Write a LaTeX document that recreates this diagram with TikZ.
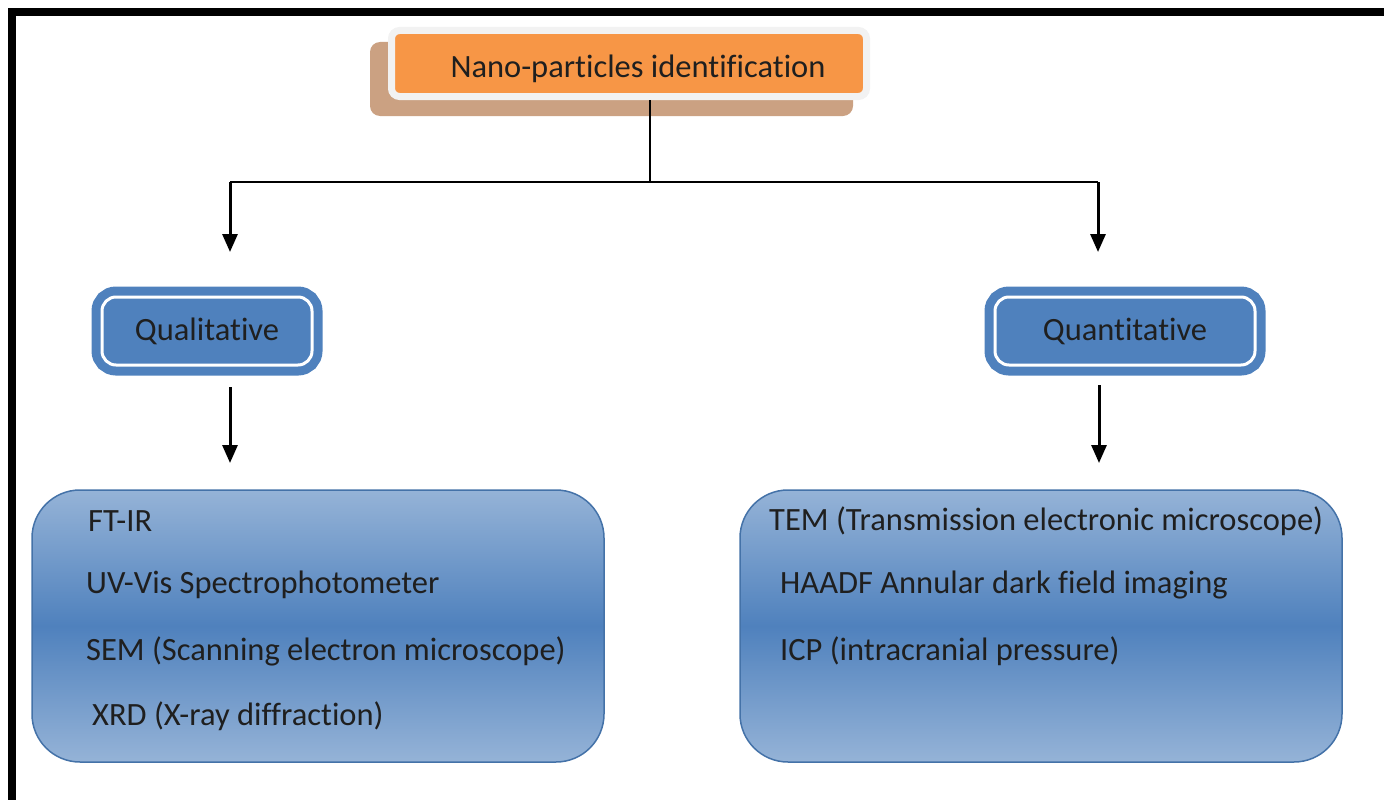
\documentclass[tikz,border=0pt]{standalone}
\usepackage{fontspec}
\setmainfont{Carlito}[Ligatures={NoCommon}]
\usetikzlibrary{positioning}
\usetikzlibrary{arrows.meta}

\definecolor{nporange}{HTML}{F79646}
\definecolor{npframe}{HTML}{F2F2F2}
\definecolor{nptan}{HTML}{CBA182}
\definecolor{npblue}{HTML}{4F81BD}
\definecolor{boxlight}{HTML}{95B3D7}
\definecolor{boxdark}{HTML}{4F81BD}
\definecolor{boxedge}{HTML}{4472A8}

\begin{document}
\begin{tikzpicture}[x=1pt,y=-1pt,
  txt/.style={font=\fontsize{32.5}{38}\selectfont, text=black!88},
  branch/.style={txt, fill=npblue, draw=npblue, double=white, double distance=3pt,
    line width=9pt, rounded corners=14pt, minimum height=68pt},
  method/.style={draw=boxedge, line width=1.5pt, rounded corners=48pt,
    top color=boxlight, bottom color=boxlight, middle color=boxdark,
    minimum height=272pt},
  item/.style={txt, anchor=west, inner sep=0pt},
  link/.style={line width=3pt, -{Triangle[width=15pt,length=18pt]}}]
  \useasboundingbox (0,0) rectangle (1384,800);

  \draw[line width=8pt, line join=miter] (12,810) -- (12,12) -- (1394,12);

  % title box with its shadow
  \fill[nptan, rounded corners=10pt] (370,42) rectangle (853,116);
  \node[fill=nporange, draw=npframe, line width=7pt, rounded corners=8pt,
    minimum width=475pt, minimum height=66pt] (top) at (629,63.5) {};
  \node[txt, inner sep=0pt] (title) at (638,69) {Nano-particles identification};

  \node[branch, minimum width=210pt] (qual) at (207,331) {Qualitative};
  \node[branch, minimum width=260pt] (quant) at (1125,331) {Quantitative};

  \node[method, minimum width=572pt] (qualbox) at (318,626) {};
  \node[method, minimum width=602pt] (quantbox) at (1041,626) {};

  \node[item] (ftir) at (88,521) {FT-IR};
  \node[item] (uvvis) at (86,585) {UV-Vis Spectrophotometer};
  \node[item] (sem) at (86,651) {SEM (Scanning electron microscope)};
  \node[item] (xrd) at (92,716) {XRD (X-ray diffraction)};

  \node[item] (tem) at (769,521) {TEM (Transmission electronic microscope)};
  \node[item] (haadf) at (780,585) {HAADF Annular dark field imaging};
  \node[item] (icp) at (780,651) {ICP (intracranial pressure)};

  \coordinate (split) at (650,182);
  \coordinate (lhead) at (230,252);
  \coordinate (rhead) at (1098,252);
  \coordinate (ltail) at (230,387);
  \coordinate (lend) at (230,463);
  \coordinate (rtail) at (1099,385);
  \coordinate (rend) at (1099,463);

  \draw[line width=1.6pt] (top.south -| split) -- (split);
  \draw[line width=1.6pt] (lhead |- split) -- (rhead |- split);
  \draw[link] (lhead |- split) -- (lhead);
  \draw[link] (rhead |- split) -- (rhead);
  \draw[link] (ltail) -- (lend);
  \draw[link] (rtail) -- (rend);
\end{tikzpicture}
\end{document}
